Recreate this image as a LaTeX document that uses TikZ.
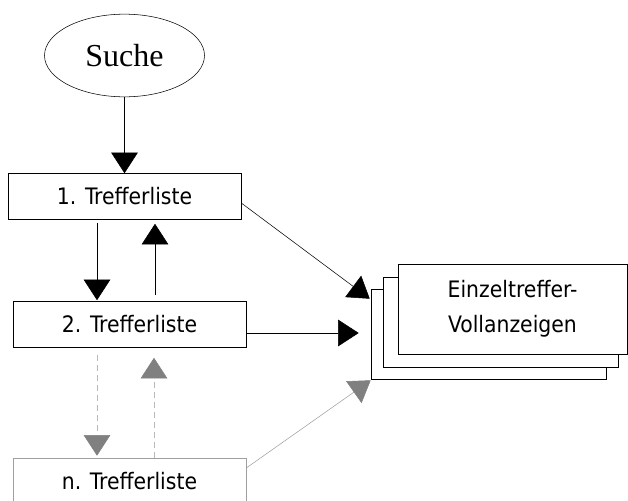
\documentclass[tikz,border=0pt]{standalone}
\usepackage{fontspec}
\setmainfont{Liberation Serif}
\newfontfamily\listfont{DejaVu Sans Condensed}
\usepackage{tikz}
\usetikzlibrary{positioning}
\usetikzlibrary{shapes.geometric}
\usetikzlibrary{arrows.meta}
\usetikzlibrary{calc}

\begin{document}
\begin{tikzpicture}[
                x=0.75pt, y=-0.75pt,
                >={Triangle[width=20pt,length=15.5pt]},
                searchnode/.style={ellipse, draw, thin, inner sep=0pt, minimum width=120pt, minimum height=62pt, font=\fontsize{24}{28}\selectfont},
                listnode/.style={rectangle, draw, thin, fill=white, inner sep=0pt, minimum width=174.75pt, minimum height=34.5pt, font=\listfont\fontsize{17}{20}\selectfont},
                listnode_gray/.style={listnode, draw=gray!75},
                pagenode/.style={rectangle, draw, thin, fill=white, inner sep=0pt, minimum width=176.25pt, minimum height=67.5pt, align=center, font=\listfont\fontsize{17}{26}\selectfont},
                arrow_gray/.style={->, thin, draw=gray!75, >={Triangle[width=20pt,length=15.5pt,color=gray]}},
                arrow_dashed/.style={arrow_gray, draw=gray!55, dash pattern=on 4.5pt off 3pt},
            ]
            \clip (0,0) rectangle (628,500);

            % Nodes
            \node[searchnode]       (suche)     at (124.5,55.5)     {Suche};

            \node[listnode]         (liste_1)   at (124.5,196.5)    {1. Trefferliste};
            \node[listnode]         (liste_2)   at (129.5,324.5)    {2. Trefferliste};
            \node[listnode_gray]    (liste_n)   at (129.5,481)      {n. Trefferliste};

            \node[pagenode]         (seite_3)   at (488.5,334)      {};
            \node[pagenode]         (seite_2)   [above right=9pt and 9pt of seite_3.south west, anchor=south west] {};
            \node[pagenode, minimum width=171.75pt] (seite_1) [above right=9.75pt and 11.25pt of seite_2.south west, anchor=south west] {Einzeltreffer-\\Vollanzeigen};

            %Lines
            \draw[->] (suche.south) -- (liste_1.north);

            \draw[->] ($(liste_1.south)+(-27.5,3)$) -- ($(liste_2.north)+(-32.5,-1)$);
            \draw[->] ($(liste_2.north)+(25.5,-6)$) -- ($(liste_1.south)+(30.5,4)$);

            \draw[arrow_dashed] ($(liste_2.south)+(-32.5,7)$) -- ($(liste_n.north)+(-32.5,-2)$);
            \draw[arrow_dashed] ($(liste_n.north)+(24.5,0)$) -- ($(liste_2.south)+(24.5,10)$);

            \draw[->] ($(liste_1.east)+(0,6.5)$) -- ($(seite_3.north west)+(-1,10)$);
            \draw[->] ($(liste_2.east)+(0,8.5)$) -- ($(seite_3.west)+(-12,-1)$);
            \draw[arrow_gray] ($(liste_n.east)+(0,-13)$) -- ($(seite_3.south west)+(0,1)$);
        \end{tikzpicture}
\end{document}
